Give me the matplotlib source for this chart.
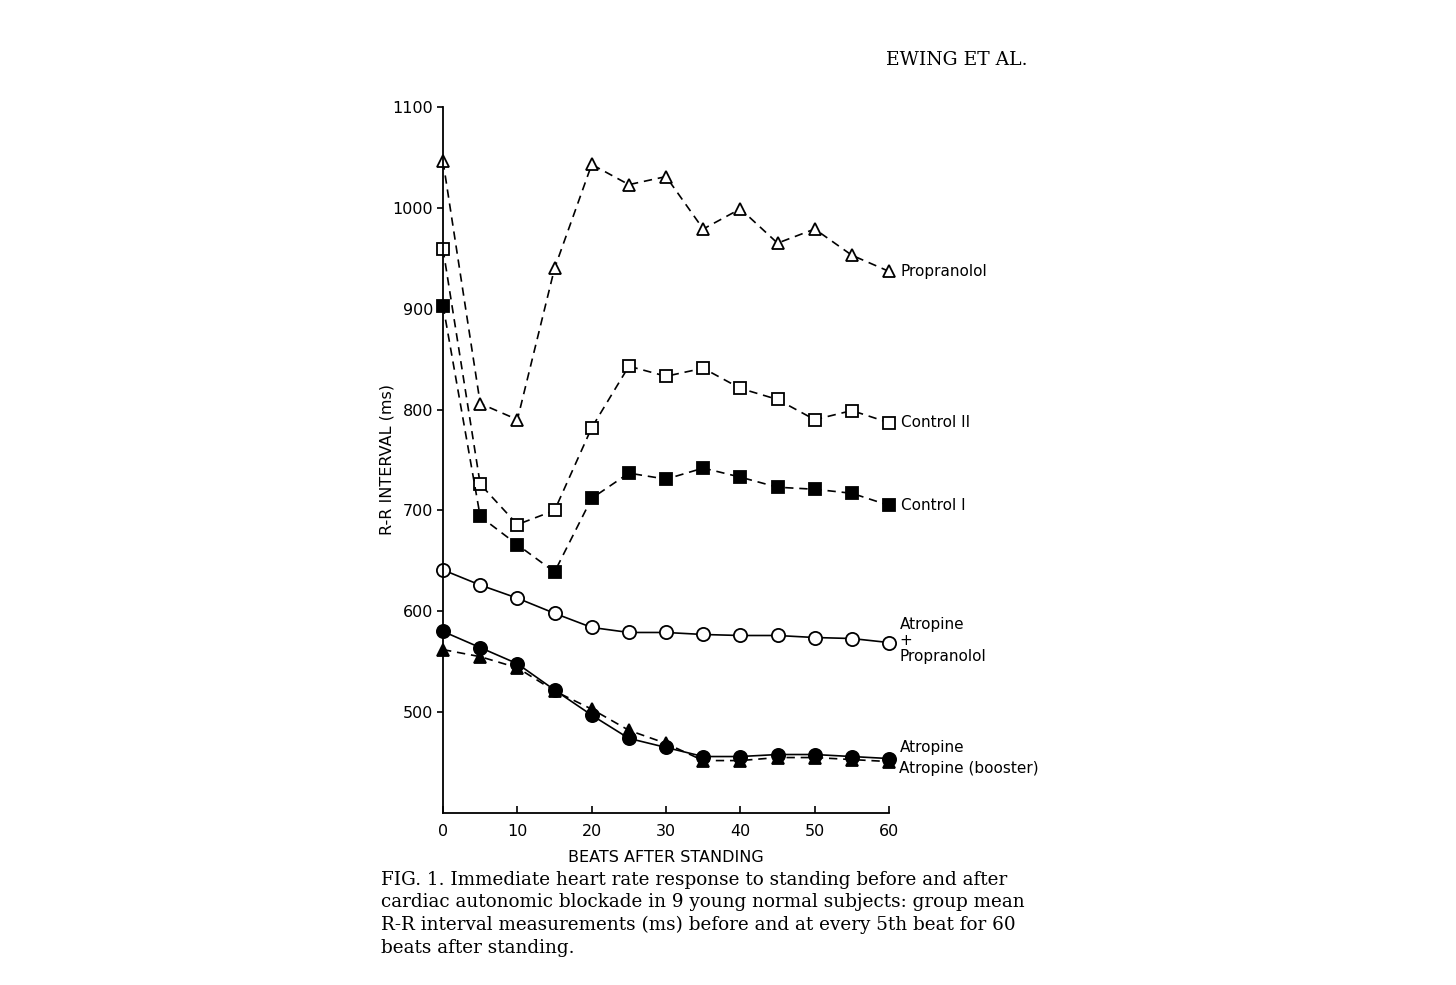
import matplotlib
matplotlib.use("Agg")
import matplotlib.pyplot as plt

beats = [0, 5, 10, 15, 20, 25, 30, 35, 40, 45, 50, 55, 60]

propranolol = [1046, 806, 790, 940, 1043, 1023, 1031, 979, 999, 965, 979, 953, 937]
control2 = [959, 726, 686, 700, 782, 843, 833, 841, 821, 810, 790, 799, 787]
control1 = [903, 694, 666, 639, 712, 737, 731, 742, 733, 723, 721, 717, 705]
atro_prop = [641, 626, 613, 598, 584, 579, 579, 577, 576, 576, 574, 573, 569]
atropine = [580, 564, 548, 522, 497, 474, 465, 456, 456, 458, 458, 456, 454]
atro_boost = [562, 555, 544, 521, 503, 482, 469, 452, 452, 455, 455, 453, 451]

yticks = [500, 600, 700, 800, 900, 1000, 1100]
xticks = [0, 10, 20, 30, 40, 50, 60]

sans = ['DejaVu Sans']
serif = ['DejaVu Serif']

fig = plt.figure(figsize=(14.56, 9.85), dpi=100)
ax = fig.add_axes([0.3043, 0.1746, 0.3063, 0.7168])

dash = (0, (5, 3.5))
lw = 1.2
common = dict(color='black', lw=lw, clip_on=False, markeredgewidth=1.3)

ax.plot(beats, propranolol, linestyle=dash, marker='^', ms=9, mfc='white', **common)
ax.plot(beats, control2, linestyle=dash, marker='s', ms=9, mfc='white', **common)
ax.plot(beats, control1, linestyle=dash, marker='s', ms=9, mfc='black', **common)
ax.plot(beats, atro_prop, linestyle='-', marker='o', ms=9.5, mfc='white', **common)
ax.plot(beats, atro_boost, linestyle=dash, marker='^', ms=8, mfc='black', zorder=2, **common)
ax.plot(beats, atropine, linestyle='-', marker='o', ms=9.5, mfc='black', zorder=3, **common)

ax.set_xlim(0, 60)
ax.set_ylim(400, 1100)
ax.set_xticks(xticks)
ax.set_yticks(yticks)
ax.tick_params(axis='x', direction='in', length=5, width=1.2, labelsize=11.5, pad=8)
ax.tick_params(axis='y', direction='out', length=4, width=1.2, labelsize=11.5, pad=3)
for lab in ax.get_xticklabels() + ax.get_yticklabels():
    lab.set_family(sans)
ax.spines['top'].set_visible(False)
ax.spines['right'].set_visible(False)
ax.spines['left'].set_linewidth(1.3)
ax.spines['bottom'].set_linewidth(1.3)

ax.set_xlabel('BEATS AFTER STANDING', family=sans, fontsize=11.5)
ax.set_ylabel('R-R INTERVAL (ms)', family=sans, fontsize=11.5)
ax.xaxis.set_label_coords(0.5, -0.052)
ax.yaxis.set_label_coords(-0.108, 0.5)

# series labels at the right end
lab_kw = dict(family=sans, fontsize=11, va='center', ha='left')
ax.text(61.6, propranolol[-1], 'Propranolol', **lab_kw)
ax.text(61.6, control2[-1], 'Control II', **lab_kw)
ax.text(61.6, control1[-1], 'Control I', **lab_kw)
ax.text(61.4, atro_prop[-1] + 2, 'Atropine\n+\nPropranolol', family=sans, fontsize=11,
        va='center', ha='left', linespacing=1.1)
ax.text(61.4, 465, 'Atropine', **lab_kw)
ax.text(61.4, 444, 'Atropine (booster)', **lab_kw)

fig.text(0.706, 0.939, 'EWING ET AL.', family=serif, fontsize=13.5, ha='right', va='center')

caption = ("FIG. 1. Immediate heart rate response to standing before and after\n"
           "cardiac autonomic blockade in 9 young normal subjects: group mean\n"
           "R-R interval measurements (ms) before and at every 5th beat for 60\n"
           "beats after standing.")
fig.text(0.262, 0.116, caption, family=serif, fontsize=13.2, ha='left', va='top',
         linespacing=1.32)

fig.savefig('out.png', dpi=100)
